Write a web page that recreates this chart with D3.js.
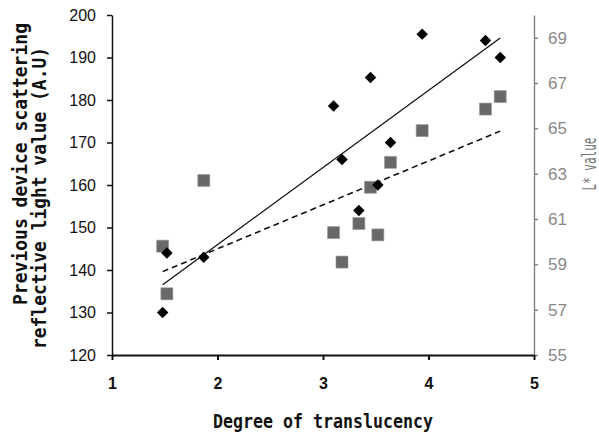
<html>
<head>
<style>
  body { margin: 0; background: #fff; }
  .tick text { font-family: "Liberation Sans", Arial, sans-serif; font-size: 16px; }
  .title { font-family: "DejaVu Sans Mono", monospace; font-weight: bold; font-size: 19px; fill: #111; }
</style>
<script src="https://d3js.org/d3.v7.min.js"></script>
</head>
<body>
<svg width="599" height="433"></svg>
<script>
// degree of translucency for each specimen
const translucency = [1.48, 1.52, 1.87, 3.10, 3.18, 3.34, 3.45, 3.52, 3.64, 3.94, 4.54, 4.68];
// previous device scattering reflective light value (left axis)
const reflective = [130, 144, 143, 178.6, 166, 154, 185.3, 160, 170, 195.5, 194, 190];
// L* value (right axis)
const lValue = [59.8, 57.7, 62.7, 60.4, 59.1, 60.8, 62.4, 60.3, 63.5, 64.9, 65.85, 66.4];

const xTicks = [1, 2, 3, 4, 5];
const leftTicks = [120, 130, 140, 150, 160, 170, 180, 190, 200];
const rightTicks = [55, 57, 59, 61, 63, 65, 67, 69];

const svg = d3.select("svg");
const x = d3.scaleLinear().domain([1, 5]).range([112, 534]);
const yL = d3.scaleLinear().domain([120, 200]).range([355, 15]);
const yR = d3.scaleLinear().domain([55, 70]).range([355, 15]);

// least squares line
function fit(xs, ys) {
  const mx = d3.mean(xs), my = d3.mean(ys);
  let sxy = 0, sxx = 0;
  xs.forEach((v, i) => { sxy += (v - mx) * (ys[i] - my); sxx += (v - mx) * (v - mx); });
  const b = sxy / sxx;
  return v => my + b * (v - mx);
}

// axes
const gL = svg.append("g").attr("transform", "translate(112,0)")
  .call(d3.axisLeft(yL).tickValues(leftTicks).tickSize(5).tickSizeOuter(0).tickPadding(11));
gL.selectAll("path,line").attr("stroke", "#111").attr("stroke-width", 1.5);
gL.selectAll("text").attr("fill", "#111");

const gR = svg.append("g").attr("transform", "translate(534,0)")
  .call(d3.axisRight(yR).tickValues(rightTicks).tickSize(4).tickSizeOuter(0).tickPadding(10));
gR.selectAll("path,line").attr("stroke", "#777").attr("stroke-width", 1.3);
gR.selectAll("text").attr("fill", "#888").style("font-size", "17px");

const gB = svg.append("g").attr("transform", "translate(0,355)")
  .call(d3.axisBottom(x).tickValues(xTicks).tickFormat(d3.format("d")).tickSize(5).tickSizeOuter(0).tickPadding(18));
gB.selectAll("path,line").attr("stroke", "#111").attr("stroke-width", 2);
gB.selectAll("text").attr("fill", "#111").attr("font-weight", "bold");

// trend lines
const x0 = d3.min(translucency), x1 = d3.max(translucency);
const fL = fit(translucency, reflective);
const fR = fit(translucency, lValue);
svg.append("line")
  .attr("x1", x(x0)).attr("y1", yL(fL(x0))).attr("x2", x(x1)).attr("y2", yL(fL(x1)))
  .attr("stroke", "#111").attr("stroke-width", 1.3);
svg.append("line")
  .attr("x1", x(x0)).attr("y1", yR(fR(x0))).attr("x2", x(x1)).attr("y2", yR(fR(x1)))
  .attr("stroke", "#111").attr("stroke-width", 1.6).attr("stroke-dasharray", "6,4");

// L* squares
svg.append("g").selectAll("path").data(lValue).enter().append("path")
  .attr("d", d3.symbol(d3.symbolSquare, 144))
  .attr("transform", (d, i) => "translate(" + x(translucency[i]) + "," + yR(d) + ")")
  .attr("fill", "#686868").attr("stroke", "#999").attr("stroke-width", 0.6);

// reflective diamonds
svg.append("g").selectAll("path").data(reflective).enter().append("path")
  .attr("d", d3.symbol(d3.symbolSquare, 66))
  .attr("transform", (d, i) => "translate(" + x(translucency[i]) + "," + yL(d) + ") rotate(45)")
  .attr("fill", "#000");

// titles
svg.append("text").attr("class", "title")
  .attr("transform", "translate(20,164) rotate(-90)")
  .attr("text-anchor", "middle").attr("dy", "0.35em")
  .attr("textLength", 282).attr("lengthAdjust", "spacingAndGlyphs")
  .text("Previous device scattering");
svg.append("text").attr("class", "title")
  .attr("transform", "translate(39,198) rotate(-90)")
  .attr("text-anchor", "middle").attr("dy", "0.35em")
  .attr("textLength", 302).attr("lengthAdjust", "spacingAndGlyphs")
  .text("reflective light value (A.U)");
svg.append("text").attr("class", "title")
  .attr("x", 323).attr("y", 421)
  .attr("text-anchor", "middle").attr("dy", "0.35em")
  .attr("textLength", 220).attr("lengthAdjust", "spacingAndGlyphs")
  .text("Degree of translucency");
svg.append("text")
  .attr("transform", "translate(589,164) rotate(-90)")
  .attr("text-anchor", "middle").attr("dy", "0.35em")
  .style("font-family", "'DejaVu Sans Mono', monospace").style("font-size", "19px")
  .attr("textLength", 53).attr("lengthAdjust", "spacingAndGlyphs")
  .attr("fill", "#777").text("L* value");
</script>
</body>
</html>
